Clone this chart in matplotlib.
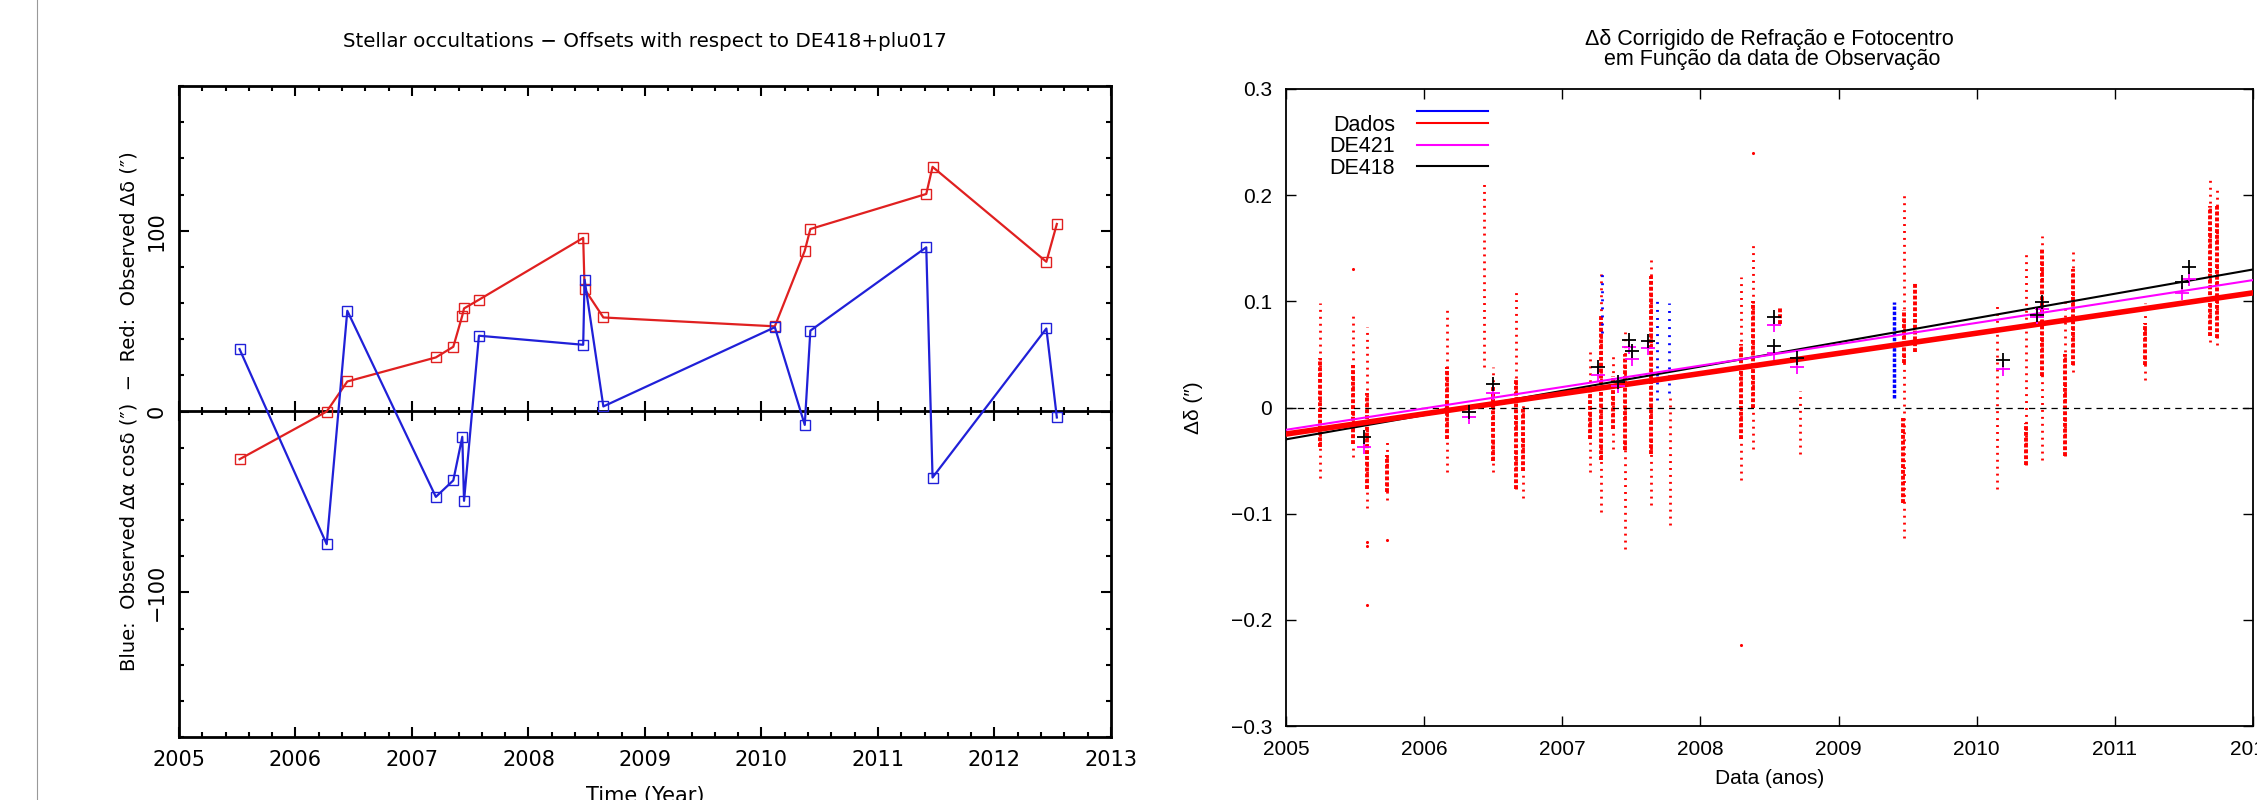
import matplotlib
matplotlib.use("Agg")
import matplotlib.pyplot as plt
from matplotlib.lines import Line2D
from matplotlib.ticker import MultipleLocator
from matplotlib.legend_handler import HandlerBase

# ---- left panel: stellar occultation offsets (mas) ----
occ_year = [2005.52, 2006.268, 2006.445, 2007.205, 2007.355, 2007.432, 2007.447,
            2007.575, 2008.47, 2008.482, 2008.643, 2010.115, 2010.372, 2010.42,
            2011.415, 2011.469, 2012.446, 2012.536]
occ_ddec = [-26.4, 0.0, 16.6, 29.9, 35.8, 53.0, 57.0, 61.8, 96.0, 67.7, 52.0,
            47.1, 88.9, 100.9, 120.3, 135.3, 82.8, 103.7]
occ_dra = [34.5, -73.4, 55.7, -47.2, -38.1, -14.0, -49.4, 41.9, 36.9, 72.9, 2.8,
           46.6, -7.4, 44.7, 90.8, -36.5, 45.9, -3.3]

# ---- right panel: declination residuals (arcsec) ----
# dense parts of each night's column of points
dense_year = [2005.248, 2005.484, 2005.586, 2005.73, 2006.166, 2006.499, 2006.668,
              2006.714, 2007.2, 2007.278, 2007.37, 2007.457, 2007.642, 2008.293,
              2008.38, 2008.575, 2009.477, 2009.47, 2009.554, 2010.36, 2010.47,
              2010.64, 2010.695, 2011.22, 2011.69, 2011.74]
dense_lo = [-0.037, -0.034, -0.077, -0.080, -0.030, -0.050, -0.077, -0.060, -0.030,
            -0.049, -0.020, -0.040, -0.044, -0.030, 0.000, 0.079, 0.042, -0.090,
            0.052, -0.054, 0.030, -0.046, 0.040, 0.040, 0.067, 0.065]
dense_hi = [0.047, 0.040, 0.014, -0.045, 0.038, 0.020, 0.028, 0.000, 0.020, 0.086,
            0.030, 0.050, 0.124, 0.060, 0.100, 0.095, 0.092, -0.010, 0.117, -0.015,
            0.150, 0.050, 0.130, 0.080, 0.190, 0.190]
# sparse extents of the columns
sparse_year = [2005.248, 2005.484, 2005.586, 2005.73, 2006.166, 2006.432, 2006.499,
               2006.668, 2006.714, 2007.2, 2007.278, 2007.37, 2007.457, 2007.642,
               2007.78, 2008.293, 2008.38, 2008.72, 2009.477, 2010.148, 2010.36,
               2010.47, 2010.64, 2010.695, 2011.22, 2011.69, 2011.74]
sparse_lo = [-0.066, -0.047, -0.095, -0.087, -0.061, 0.038, -0.061, -0.077, -0.085,
             -0.061, -0.098, -0.039, -0.133, -0.092, -0.111, -0.068, -0.039, -0.044,
             -0.123, -0.077, -0.054, -0.049, -0.046, 0.033, 0.026, 0.062, 0.059]
sparse_hi = [0.098, 0.086, 0.076, -0.032, 0.096, 0.212, 0.038, 0.112, 0.004, 0.055,
             0.129, 0.050, 0.0715, 0.141, 0.009, 0.123, 0.153, 0.016, 0.200, 0.096,
             0.148, 0.162, 0.100, 0.147, 0.098, 0.218, 0.206]
outlier_year = [2005.484, 2005.586, 2005.586, 2005.586, 2005.73, 2008.293, 2008.38]
outlier_val = [0.130, -0.127, -0.130, -0.186, -0.125, -0.224, 0.240]

blue_year = [2007.29, 2007.687, 2007.776, 2009.40]
blue_lo = [0.070, 0.007, 0.0136, 0.009]
blue_hi = [0.128, 0.104, 0.098, 0.0997]
blue_dense = [False, False, False, True]

line_year = [2005.0, 2012.0]
fit_dados = [-0.025, 0.108]
fit_de421 = [-0.021, 0.120]
fit_de418 = [-0.030, 0.130]

cross_year = [2005.566, 2006.324, 2006.50, 2007.256, 2007.40, 2007.486, 2007.505,
              2007.624, 2008.535, 2008.535, 2008.70, 2010.19, 2010.44, 2010.47,
              2011.49, 2011.54]
cross_de418 = [-0.028, -0.004, 0.022, 0.038, 0.024, 0.064, 0.053, 0.063, 0.085, 0.058,
               0.047, 0.045, 0.087, 0.099, 0.1185, 0.1326]
cross_de421 = [-0.037, -0.009, 0.014, 0.031, 0.020, 0.057, 0.046, 0.056, 0.078, 0.051,
               0.038, 0.036, 0.085, 0.093, 0.108, 0.121]


class DadosHandler(HandlerBase):
    # blue line stacked above the red one, as in the original key
    def create_artists(self, legend, orig_handle, xdescent, ydescent, width, height,
                       fontsize, trans):
        y = height / 2 - ydescent
        out = []
        for color, dy in (("blue", 0.58 * fontsize), ("red", 0.0)):
            ln = Line2D([-xdescent, width - xdescent], [y + dy, y + dy], color=color, lw=1.5)
            ln.set_transform(trans)
            out.append(ln)
        return out


fig = plt.figure(figsize=(22.57, 8), dpi=100)
fig.add_artist(Line2D([0.0165, 0.0165], [0, 1], color="#999999", lw=0.8))

# ================= left panel =================
ax1 = fig.add_axes([0.0793, 0.07875, 0.4129, 0.81375])
red1, blue1 = "#e02020", "#2020d8"
ax1.plot(occ_year, occ_ddec, color=red1, lw=1.6, marker="s", ms=6.5, mfc="none",
         mec=red1, mew=1.0)
ax1.plot(occ_year, occ_dra, color=blue1, lw=1.6, marker="s", ms=6.5, mfc="none",
         mec=blue1, mew=1.0)
ax1.set_xlim(2005, 2013)
ax1.set_ylim(-180, 180)
ax1.xaxis.set_major_locator(MultipleLocator(1))
ax1.xaxis.set_minor_locator(MultipleLocator(0.2))
ax1.yaxis.set_major_locator(MultipleLocator(100))
ax1.yaxis.set_minor_locator(MultipleLocator(20))
ax1.tick_params(which="both", direction="in", top=True, right=True, width=1.5,
                labelsize=15)
ax1.tick_params(which="major", length=7.5)
ax1.tick_params(which="minor", length=3.8)
ax1.tick_params(axis="x", pad=9)
ax1.tick_params(axis="y", pad=9)
for lab in ax1.get_yticklabels():
    lab.set_rotation(90)
    lab.set_va("center")
for sp in ax1.spines.values():
    sp.set_linewidth(2)

zero = ax1.secondary_xaxis(0.5)
zero.spines["top"].set_linewidth(2)
zero.xaxis.set_major_locator(MultipleLocator(1))
zero.xaxis.set_minor_locator(MultipleLocator(0.2))
zero.tick_params(which="both", direction="inout", width=1.5, labeltop=False,
                 labelbottom=False)
zero.tick_params(which="major", length=14)
zero.tick_params(which="minor", length=6)

ax1.set_title("Stellar occultations \u2212 Offsets with respect to DE418+plu017",
              fontsize=14.3, pad=28)
ax1.set_xlabel("Time (Year)", fontsize=15, labelpad=12)
ax1.set_ylabel("Blue:  Observed \u0394\u03b1 cos\u03b4 (\u2033)  \u2212  Red:  Observed \u0394\u03b4 (\u2033)",
               fontsize=14, labelpad=6)

# ================= right panel =================
font2 = "Liberation Sans"
ax2 = fig.add_axes([0.5698, 0.0925, 0.4284, 0.79625])
ax2.vlines(sparse_year, sparse_lo, sparse_hi, colors="red", linewidth=2.0,
           linestyles=(0, (0.7, 1.8)), zorder=1)
ax2.vlines(dense_year, dense_lo, dense_hi, colors="red", linewidth=2.8,
           linestyles=(0, (1.0, 0.5)), zorder=1)
ax2.scatter(outlier_year, outlier_val, s=5, color="red", lw=0, zorder=1)
for yr, lo, hi, dense in zip(blue_year, blue_lo, blue_hi, blue_dense):
    if dense:
        ax2.vlines(yr, lo, hi, colors="blue", linewidth=2.5,
                   linestyles=(0, (1.0, 0.5)), zorder=1)
    else:
        ax2.vlines(yr, lo, hi, colors="blue", linewidth=2.0,
                   linestyles=(0, (0.7, 2.2)), zorder=1)

ax2.axhline(0, color="black", lw=0.9, ls=(0, (5, 4)), zorder=2)
ax2.plot(line_year, fit_de418, color="black", lw=1.5, zorder=3)
ax2.plot(line_year, fit_de421, color="magenta", lw=1.5, zorder=3)
ax2.plot(line_year, fit_dados, color="red", lw=4.0, zorder=3)
ax2.plot(cross_year, cross_de421, ls="none", marker="+", ms=10, mew=1.3,
         color="magenta", zorder=4)
ax2.plot(cross_year, cross_de418, ls="none", marker="+", ms=10, mew=1.3,
         color="black", zorder=4)

ax2.set_xlim(2005, 2012)
ax2.set_ylim(-0.3, 0.3)
ax2.xaxis.set_major_locator(MultipleLocator(1))
ax2.yaxis.set_major_locator(MultipleLocator(0.1))
ax2.yaxis.set_major_formatter(lambda v, p: "0" if abs(v) < 1e-9 else f"{v:.1f}".replace("-", "\u2212"))
ax2.tick_params(direction="in", top=True, right=True, length=7, width=1.0, pad=10,
                labelsize=15)
for lab in ax2.get_xticklabels() + ax2.get_yticklabels():
    lab.set_family(font2)
for sp in ax2.spines.values():
    sp.set_linewidth(1.3)

ax2.set_title("\u0394\u03b4 Corrigido de Refração e Fotocentro\n em Função da data de Observação",
              fontsize=15.5, family=font2, linespacing=0.95, pad=17)
ax2.set_xlabel("Data (anos)", fontsize=15, family=font2, labelpad=7)
ax2.set_ylabel("\u0394\u03b4 (\u2033)", fontsize=15, family=font2, labelpad=20)

handles = [Line2D([], [], color="red"),
           Line2D([], [], color="magenta", lw=1.5),
           Line2D([], [], color="black", lw=1.5)]
ax2.legend(handles, ["Dados", "DE421", "DE418"], loc="upper left",
           bbox_to_anchor=(0.025, 0.99), frameon=False, markerfirst=False,
           handlelength=3.3, handletextpad=1.0, labelspacing=0.02,
           prop={"family": font2, "size": 15.5},
           handler_map={handles[0]: DadosHandler()})

fig.savefig("out.png", dpi=100)
